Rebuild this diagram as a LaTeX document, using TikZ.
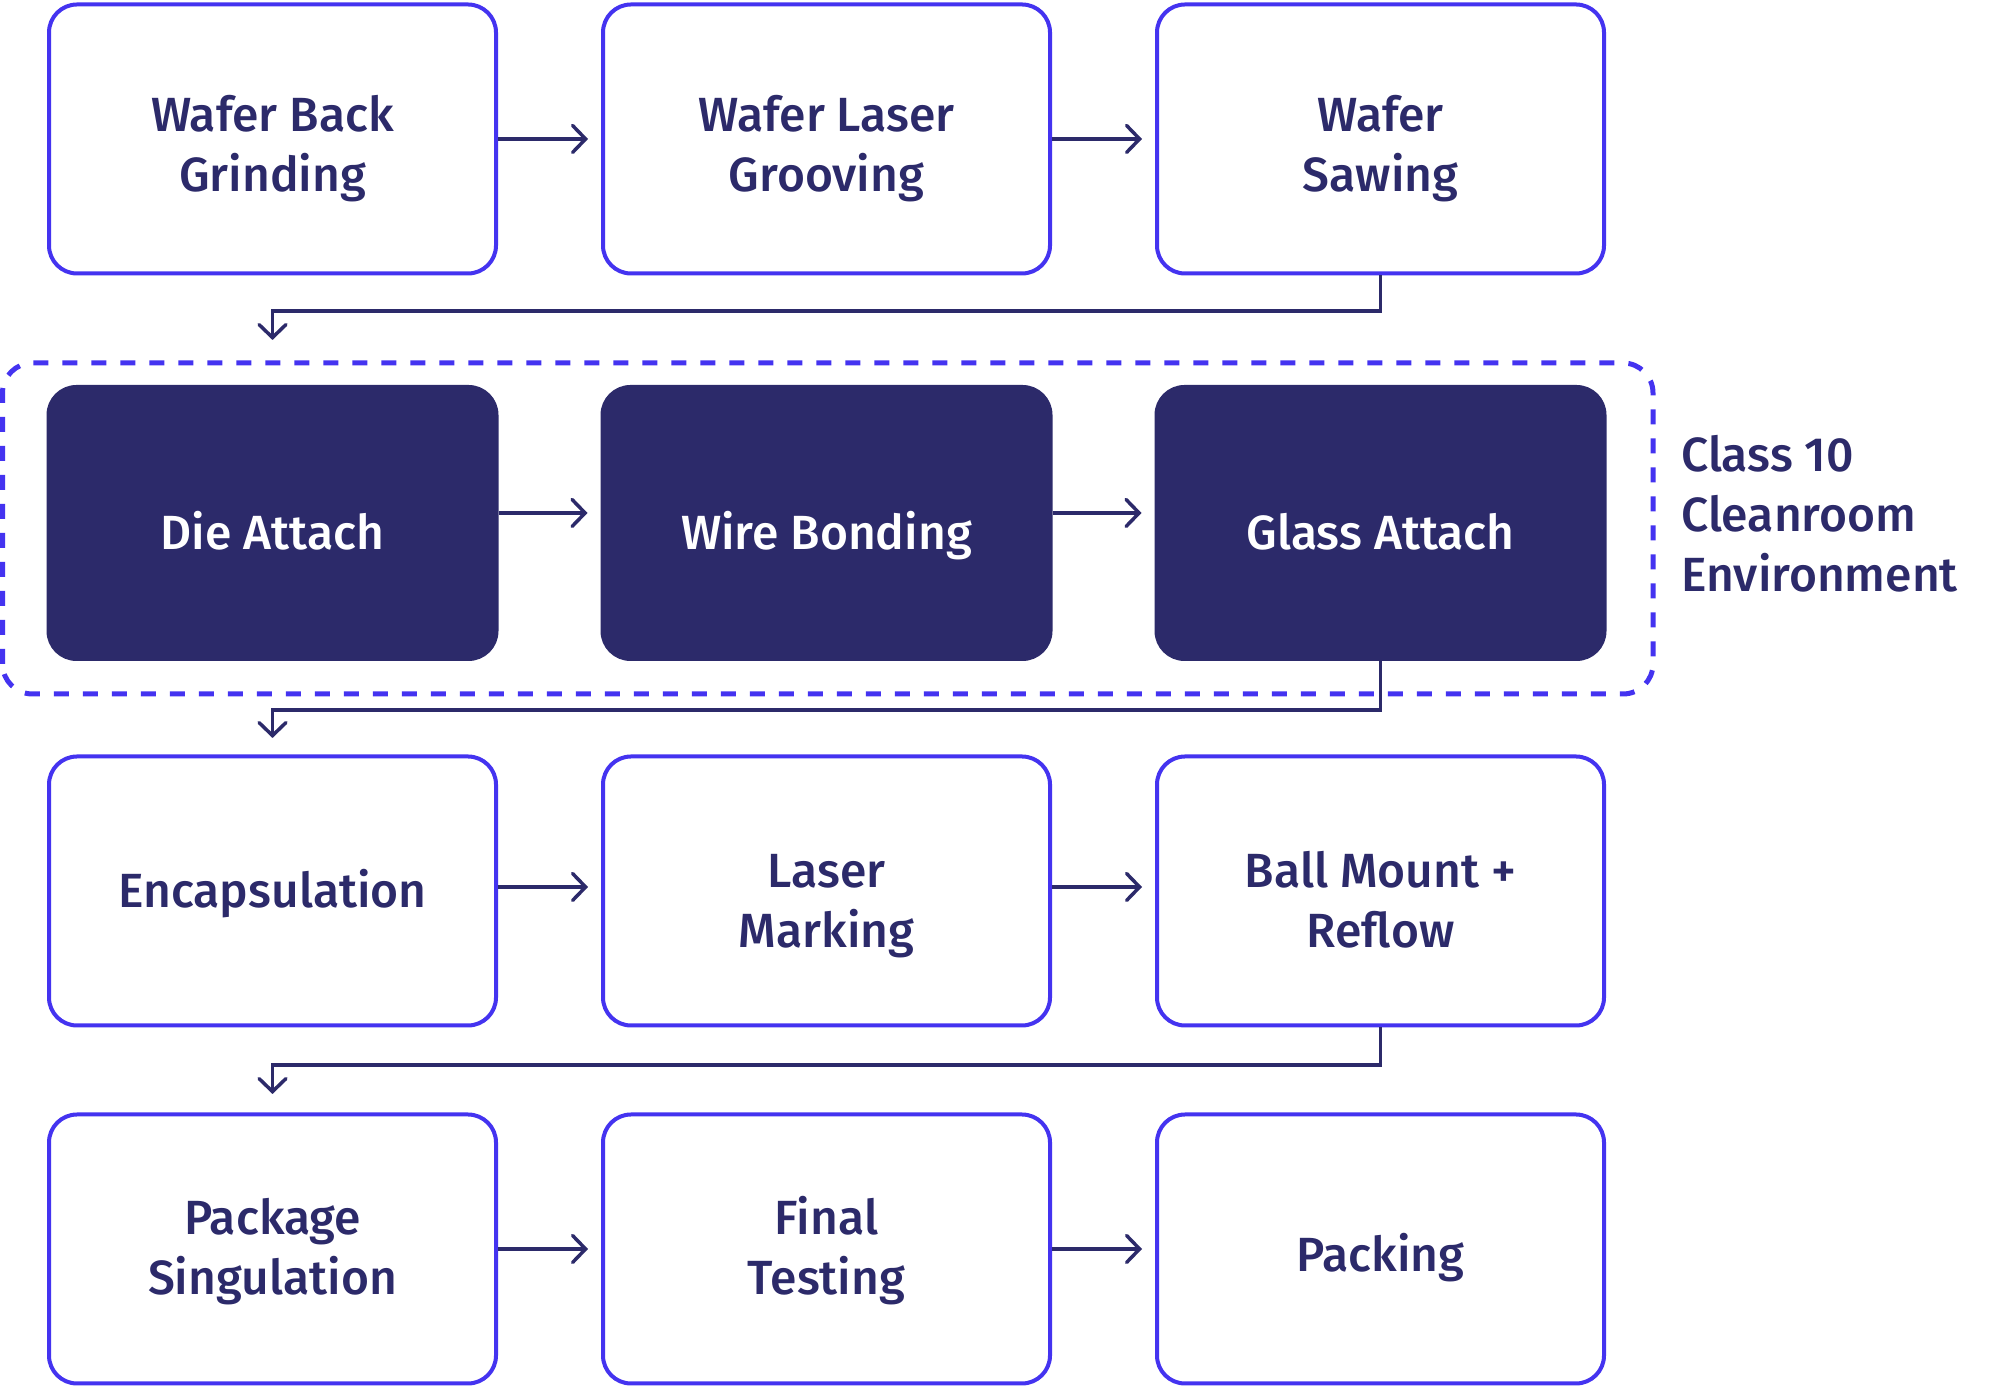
\documentclass[tikz,border=0pt]{standalone}
\usepackage{fontspec}
\setmainfont{Fira Sans Medium}
\usetikzlibrary{arrows.meta}
\definecolor{navy}{RGB}{44,42,106}
\definecolor{vblue}{RGB}{68,51,240}
\begin{document}
\begin{tikzpicture}[x=1pt,y=1pt,
 box/.style={draw=vblue, line width=4pt, rounded corners=28pt, fill=white,
   minimum width=447pt, minimum height=269pt, inner sep=0pt},
 dbox/.style={box, draw=navy, fill=navy, minimum width=448pt, minimum height=272pt},
 txt/.style={anchor=base, inner sep=0pt, text=navy, font=\fontsize{48}{60}\selectfont},
 dtxt/.style={txt, text=white},
 link/.style={draw=navy, line width=3.5pt, -{Straight Barb[length=13pt,width=27pt,line cap=round]}},
 zone/.style={draw=vblue, line width=5pt, dash pattern=on 15pt off 14pt, rounded corners=30pt}
]
\useasboundingbox (0,0) rectangle (1992,1388);
\fill[white] (0,0) rectangle (1992,1388);

% cleanroom zone
\draw[zone] (2.5,694) rectangle (1653,1025);
\node[txt, anchor=base west] (lbl1) at (1681,916) {Class 10};
\node[txt, anchor=base west] (lbl2) at (1681,856) {Cleanroom};
\node[txt, anchor=base west] (lbl3) at (1681,796) {Environment};

% row 1
\node[box] (wb) at (272.5,1249) {};
\node[box] (wl) at (826.5,1249) {};
\node[box] (ws) at (1380.5,1249) {};
\node[txt] (wbA) at (272.5,1256) {Wafer Back};
\node[txt] (wbB) at (272.5,1196) {Grinding};
\node[txt] (wlA) at (826.5,1256) {Wafer Laser};
\node[txt] (wlB) at (826.5,1196) {Grooving};
\node[txt] (wsA) at (1380.5,1256) {Wafer};
\node[txt] (wsB) at (1380.5,1196) {Sawing};
% row 2
\node[dbox] (da) at (272.5,865) {};
\node[dbox] (wbd) at (826.5,865) {};
\node[dbox] (ga) at (1380.5,865) {};
\node[dtxt] (daT) at (272.5,838) {Die Attach};
\node[dtxt] (wbdT) at (826.5,838) {Wire Bonding};
\node[dtxt] (gaT) at (1380.5,838) {Glass Attach};
% row 3
\node[box] (en) at (272.5,497) {};
\node[box] (lm) at (826.5,497) {};
\node[box] (bm) at (1380.5,497) {};
\node[txt] (enT) at (272.5,480) {Encapsulation};
\node[txt] (lmA) at (826.5,500) {Laser};
\node[txt] (lmB) at (826.5,440) {Marking};
\node[txt] (bmA) at (1380.5,500) {Ball Mount +};
\node[txt] (bmB) at (1380.5,440) {Reflow};
% row 4
\node[box] (ps) at (272.5,139) {};
\node[box] (ft) at (826.5,139) {};
\node[box] (pk) at (1380.5,139) {};
\node[txt] (psA) at (272.5,153) {Package};
\node[txt] (psB) at (272.5,93) {Singulation};
\node[txt] (ftA) at (826.5,153) {Final};
\node[txt] (ftB) at (826.5,93) {Testing};
\node[txt] (pkT) at (1380.5,116) {Packing};

% horizontal arrows
\draw[link, shorten >=13pt] (wb.east) -- (wl.west);
\draw[link, shorten >=13pt] (wl.east) -- (ws.west);
\draw[link, shorten >=13pt] ([yshift=10pt]da.east) -- ([yshift=10pt]wbd.west);
\draw[link, shorten >=13pt] ([yshift=10pt]wbd.east) -- ([yshift=10pt]ga.west);
\draw[link, shorten >=13pt] ([yshift=4pt]en.east) -- ([yshift=4pt]lm.west);
\draw[link, shorten >=13pt] ([yshift=4pt]lm.east) -- ([yshift=4pt]bm.west);
\draw[link, shorten >=13pt] (ps.east) -- (ft.west);
\draw[link, shorten >=13pt] (ft.east) -- (pk.west);

% row-to-row connectors
\coordinate (t1) at (272.5,1077);
\coordinate (e1) at (272.5,1048);
\coordinate (t2) at (272.5,678);
\coordinate (e2) at (272.5,650);
\coordinate (t3) at (272.5,323);
\coordinate (e3) at (272.5,294);
\draw[link] (ws.south) |- (t1) -- (e1);
\draw[link] (ga.south) |- (t2) -- (e2);
\draw[link] (bm.south) |- (t3) -- (e3);
\end{tikzpicture}
\end{document}
